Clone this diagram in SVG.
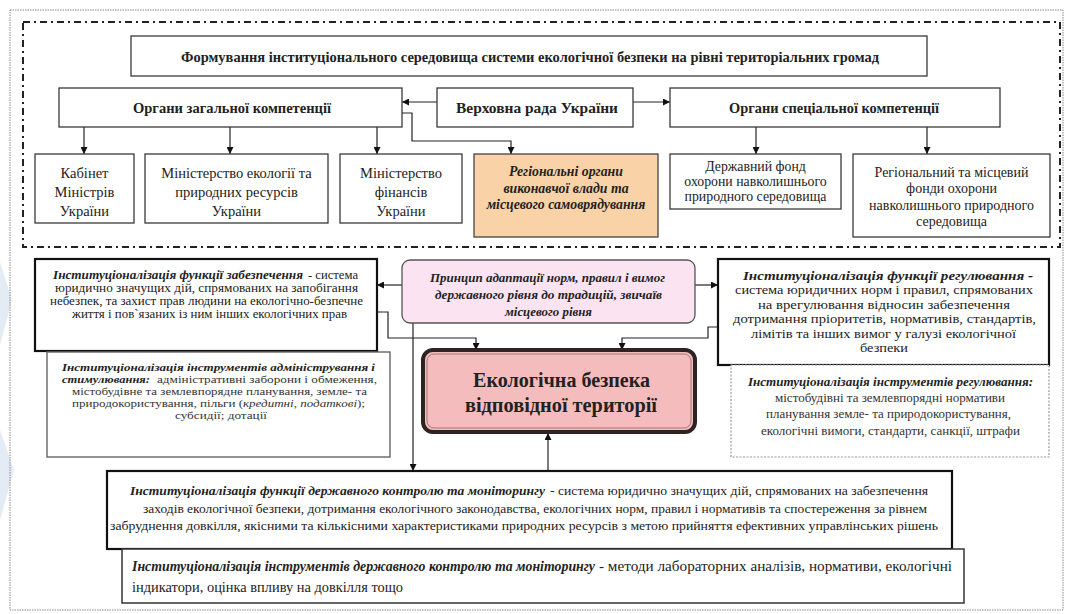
<svg xmlns="http://www.w3.org/2000/svg" width="1068" height="614" viewBox="0 0 1068 614">
<style>
.t{font-family:"Liberation Serif","Times New Roman",serif;fill:#222}
.b{font-weight:bold}
.bi{font-weight:bold;font-style:italic}
.i{font-style:italic}
.g{fill:#333}
.box{fill:#fff;stroke:#3a3a3a;stroke-width:1.3}
.thick{fill:#fff;stroke:#111;stroke-width:2.2}
.conn{fill:none;stroke:#222;stroke-width:1.2}
.arr{marker-end:url(#ah)}
</style>
<defs>
<marker id="ah" viewBox="0 0 10 10" refX="10" refY="5" markerWidth="7" markerHeight="7" orient="auto" markerUnits="userSpaceOnUse">
<path d="M0,0 L10,5 L0,10 z" fill="#111"/>
</marker>
</defs>
<rect width="1068" height="614" fill="#fff"/>
<path d="M0,262 L12,300 L0,345 Z" fill="#e3ebf5"/>
<path d="M0,430 L14,470 L0,520 Z" fill="#e3ebf5"/>
<rect x="10" y="10" width="1053" height="600" fill="none" stroke="#8a8a8a" stroke-width="1" stroke-dasharray="1.5,1"/>
<rect x="23" y="22" width="1037" height="225" fill="none" stroke="#222" stroke-width="2" stroke-dasharray="7,4,2,4"/>

<g id="connectors">
<path class="conn arr" d="M437,102 H402"/>
<path class="conn arr" d="M633,102 H670"/>
<path class="conn arr" d="M84,127 V154"/>
<path class="conn arr" d="M230,127 V154"/>
<path class="conn arr" d="M377,127 V154"/>
<path class="conn arr" d="M402,113 H412 V141 H511 V154"/>
<path class="conn arr" d="M756,127 V154"/>
<path class="conn arr" d="M927,127 V154"/>
<path class="conn arr" d="M402,285 H377"/>
<path class="conn arr" d="M695,285 H718"/>
<path class="conn arr" d="M377,312 H388 V338 H476 V350"/>
<path class="conn arr" d="M718,327 H708 V338 H622 V350"/>
<path class="conn arr" d="M413,323 V471"/>
<path class="conn arr" d="M548,471 V433"/>
</g>

<g id="title">
<rect class="box" x="131" y="36" width="796" height="40" stroke-width="1.5"/>
<text class="t b" x="181" y="62" font-size="14.5" textLength="698" lengthAdjust="spacingAndGlyphs">Формування інституціонального середовища системи екологічної безпеки на рівні територіальних громад</text>
</g>
<g id="organy-zagalnoi">
<rect class="box" x="59" y="88" width="343" height="39"/>
<text class="t b" x="133" y="112.5" font-size="14.5" textLength="198" lengthAdjust="spacingAndGlyphs">Органи загальної компетенції</text>
</g>
<g id="verkhovna-rada">
<rect class="box" x="437" y="88" width="196" height="39"/>
<text class="t b" x="456" y="112.5" font-size="14.5" textLength="162" lengthAdjust="spacingAndGlyphs">Верховна рада України</text>
</g>
<g id="organy-spetsialnoi">
<rect class="box" x="670" y="88" width="330" height="39"/>
<text class="t b" x="729" y="112.5" font-size="14.5" textLength="210" lengthAdjust="spacingAndGlyphs">Органи спеціальної компетенції</text>
</g>
<g id="kabinet">
<rect class="box" x="35" y="154" width="99" height="69"/>
<text class="t" font-size="14.5" text-anchor="middle"><tspan x="84.5" y="178">Кабінет</tspan><tspan x="84.5" y="197">Міністрів</tspan><tspan x="84.5" y="216">України</tspan></text>
</g>
<g id="min-ekolohii">
<rect class="box" x="145" y="154" width="183" height="69"/>
<text class="t" font-size="14.5" text-anchor="middle"><tspan x="236.5" y="178">Міністерство екології та</tspan><tspan x="236.5" y="197">природних ресурсів</tspan><tspan x="236.5" y="216">України</tspan></text>
</g>
<g id="min-finansiv">
<rect class="box" x="340" y="154" width="122" height="69"/>
<text class="t" font-size="14.5" text-anchor="middle"><tspan x="401" y="178">Міністерство</tspan><tspan x="401" y="197">фінансів</tspan><tspan x="401" y="216">України</tspan></text>
</g>
<g id="rehionalni-orhany">
<rect x="474" y="154" width="184" height="83" fill="#f9d2a8" stroke="#444" stroke-width="1.3"/>
<text class="t bi" font-size="13.8" text-anchor="middle"><tspan x="566" y="175.5">Регіональні органи</tspan><tspan x="566" y="192.5">виконавчої влади та</tspan><tspan x="566" y="209">місцевого самоврядування</tspan></text>
</g>
<g id="derzh-fond">
<rect class="box" x="670" y="154" width="171" height="55"/>
<text class="t" font-size="13.8" text-anchor="middle"><tspan x="755.5" y="170.5">Державний фонд</tspan><tspan x="755.5" y="185.7">охорони навколишнього</tspan><tspan x="755.5" y="200.9">природного  середовища</tspan></text>
</g>
<g id="rehion-fond">
<rect class="box" x="853" y="154" width="197" height="83"/>
<text class="t" font-size="14" text-anchor="middle"><tspan x="951.5" y="176.5">Регіональний та місцевий</tspan><tspan x="951.5" y="193">фонди охорони</tspan><tspan x="951.5" y="209.5">навколишнього природного</tspan><tspan x="951.5" y="226">середовища</tspan></text>
</g>

<g id="zabezpechennia">
<rect class="thick" x="35" y="259" width="342" height="92"/>
<text class="t bi" x="53" y="279" font-size="11.5" textLength="250" lengthAdjust="spacingAndGlyphs">Інституціоналізація  функції забезпечення</text>
<text class="t" x="308" y="279" font-size="11.5" textLength="50" lengthAdjust="spacingAndGlyphs">- система</text>
<text class="t" x="55" y="292" font-size="11.5" textLength="303" lengthAdjust="spacingAndGlyphs">юридично значущих дій, спрямованих на запобігання</text>
<text class="t" x="50" y="305" font-size="11.5" textLength="313" lengthAdjust="spacingAndGlyphs">небезпек, та захист прав людини на екологічно-безпечне</text>
<text class="t" x="72" y="318" font-size="11.5" textLength="275" lengthAdjust="spacingAndGlyphs">життя і пов`язаних із ним інших екологічних прав</text>
</g>
<g id="administruvannia">
<rect x="47" y="352" width="343" height="105" fill="#fff" stroke="#666" stroke-width="1.4"/>
<text class="t bi" x="62" y="371" font-size="11" textLength="313" lengthAdjust="spacingAndGlyphs">Інституціоналізація інструментів адміністрування і</text>
<text class="t bi" x="62" y="383" font-size="11" textLength="88" lengthAdjust="spacingAndGlyphs">стимулювання:</text>
<text class="t g" x="157" y="383" font-size="11" textLength="220" lengthAdjust="spacingAndGlyphs">адміністративні заборони і обмеження,</text>
<text class="t g" x="72" y="395" font-size="11" textLength="295" lengthAdjust="spacingAndGlyphs">містобудівне та землевпорядне планування, земле- та</text>
<text class="t g" x="72" y="407" font-size="11" textLength="293" lengthAdjust="spacingAndGlyphs">природокористування, пільги (<tspan class="i">кредитні, податкові</tspan>);</text>
<text class="t g" x="175" y="419" font-size="11" textLength="92" lengthAdjust="spacingAndGlyphs">субсидії; дотації</text>
</g>
<g id="pryntsyp">
<rect x="402" y="260" width="293" height="63" rx="8" fill="#fbe3f1" stroke="#555" stroke-width="1.3"/>
<text class="t bi" x="430" y="282" font-size="13" textLength="235" lengthAdjust="spacingAndGlyphs">Принцип адаптації норм, правил і вимог</text>
<text class="t bi" x="435" y="299" font-size="13" textLength="227" lengthAdjust="spacingAndGlyphs">державного рівня  до традицій, звичаїв</text>
<text class="t bi" x="505" y="316" font-size="13" textLength="87" lengthAdjust="spacingAndGlyphs">місцевого рівня</text>
</g>
<g id="rehuliuvannia">
<rect class="thick" x="718" y="259" width="331" height="106"/>
<text class="t bi" x="743" y="279.5" font-size="13" textLength="290" lengthAdjust="spacingAndGlyphs">Інституціоналізація  функції регулювання -</text>
<text class="t" x="735" y="294" font-size="13" textLength="298" lengthAdjust="spacingAndGlyphs">система юридичних норм і правил, спрямованих</text>
<text class="t" x="758" y="308.5" font-size="13" textLength="252" lengthAdjust="spacingAndGlyphs">на врегулювання відносин забезпечення</text>
<text class="t" x="733" y="323" font-size="13" textLength="303" lengthAdjust="spacingAndGlyphs">дотримання пріоритетів, нормативів, стандартів,</text>
<text class="t" x="751" y="337.5" font-size="13" textLength="265" lengthAdjust="spacingAndGlyphs">лімітів та інших вимог у галузі екологічної</text>
<text class="t" x="860" y="352" font-size="13" textLength="48" lengthAdjust="spacingAndGlyphs">безпеки</text>
</g>
<g id="instr-rehuliuvannia">
<rect x="731" y="365" width="318" height="92" fill="#fff" stroke="#9a9a9a" stroke-width="1.2" stroke-dasharray="2,1.5"/>
<text class="t bi" x="748" y="386" font-size="12.5" textLength="285" lengthAdjust="spacingAndGlyphs">Інституціоналізація інструментів регулювання:</text>
<text class="t g" x="775" y="402" font-size="12.5" textLength="230" lengthAdjust="spacingAndGlyphs">містобудівні та землевпорядні нормативи</text>
<text class="t g" x="766" y="418" font-size="12.5" textLength="245" lengthAdjust="spacingAndGlyphs">планування земле- та природокористування,</text>
<text class="t g" x="761" y="435" font-size="12.5" textLength="259" lengthAdjust="spacingAndGlyphs">екологічні вимоги, стандарти, санкції, штрафи</text>
</g>
<g id="ekolohichna-bezpeka">
<rect x="423" y="350" width="272" height="82" rx="10" fill="#f4bcbc" stroke="#2e2222" stroke-width="4"/>
<rect x="427" y="354" width="264" height="74" rx="7" fill="none" stroke="#a07878" stroke-width="1"/>
<text class="t b" x="473" y="387" font-size="21.5" fill="#2a1a1a" textLength="177" lengthAdjust="spacingAndGlyphs">Екологічна безпека</text>
<text class="t b" x="465" y="412" font-size="21.5" fill="#2a1a1a" textLength="192" lengthAdjust="spacingAndGlyphs">відповідної території</text>
</g>
<g id="derzh-kontrol">
<rect class="thick" x="107" y="471" width="845" height="78"/>
<text class="t bi" x="130" y="494.5" font-size="13.5" textLength="415" lengthAdjust="spacingAndGlyphs">Інституціоналізація  функції державного контролю та моніторингу</text>
<text class="t" x="550" y="494.5" font-size="13.5" textLength="378" lengthAdjust="spacingAndGlyphs">- система юридично значущих дій, спрямованих на забезпечення</text>
<text class="t" x="143" y="512.5" font-size="13.5" textLength="784" lengthAdjust="spacingAndGlyphs">заходів екологічної безпеки, дотримання екологічного законодавства, екологічних норм, правил і нормативів та спостереження за рівнем</text>
<text class="t" x="110" y="529.5" font-size="13.5" textLength="828" lengthAdjust="spacingAndGlyphs">забруднення довкілля, якісними та кількісними характеристиками природних ресурсів з метою прийняття ефективних управлінських рішень</text>
</g>
<g id="instr-derzh-kontrol">
<rect x="122" y="549" width="842" height="54" fill="#fff" stroke="#333" stroke-width="1.5"/>
<text class="t bi" x="132" y="570.5" font-size="14" textLength="463" lengthAdjust="spacingAndGlyphs">Інституціоналізація інструментів державного контролю та моніторингу</text>
<text class="t" x="599" y="570.5" font-size="14" textLength="353" lengthAdjust="spacingAndGlyphs">- методи лабораторних аналізів, нормативи, екологічні</text>
<text class="t" x="132" y="591.5" font-size="14" textLength="271" lengthAdjust="spacingAndGlyphs">індикатори, оцінка впливу на довкілля тощо</text>
</g>
</svg>
